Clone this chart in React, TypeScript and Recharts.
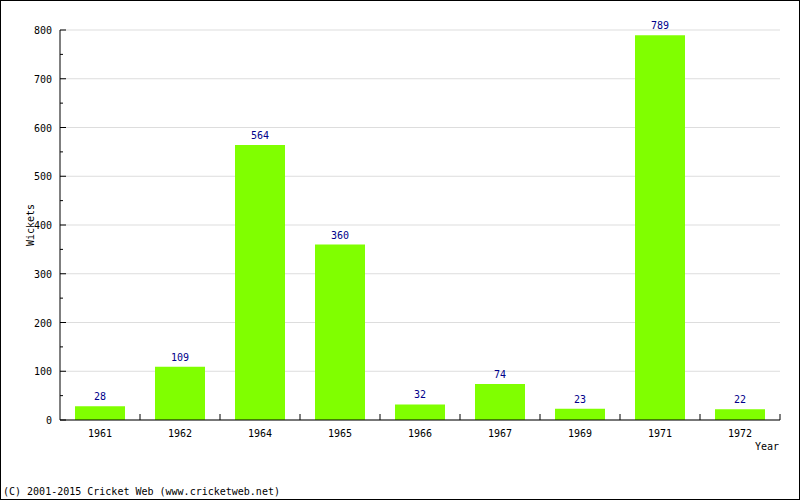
import React from "react";
import {
  Bar,
  BarChart,
  CartesianGrid,
  LabelList,
  XAxis,
  YAxis,
} from "recharts";

const years = ["1961", "1962", "1964", "1965", "1966", "1967", "1969", "1971", "1972"];
const wickets = [28, 109, 564, 360, 32, 74, 23, 789, 22];
const yMajorTicks = [0, 100, 200, 300, 400, 500, 600, 700, 800];
const yMinorTicks = [50, 150, 250, 350, 450, 550, 650, 750];

const data = years.map((year, i) => ({ year, wickets: wickets[i] }));
const allYTicks = [...yMajorTicks, ...yMinorTicks].sort((a, b) => a - b);

const font = "'DejaVu Sans Mono', monospace";

function YTick(props: any) {
  const { x, y, payload } = props;
  const major = payload.value % 100 === 0;
  return (
    <g>
      <line x1={x} x2={x + (major ? 6 : 3)} y1={y} y2={y} stroke="#000" />
      {major && (
        <text x={x - 8} y={y + 4} textAnchor="end" fontSize={10} fontFamily={font} fill="#000">
          {payload.value}
        </text>
      )}
    </g>
  );
}

function XTick(props: any) {
  const { x, y, payload } = props;
  const half = payload.offset || 40;
  return (
    <g>
      <line x1={x + half} x2={x + half} y1={y} y2={y - 6} stroke="#000" />
      <text x={x} y={y + 17} textAnchor="middle" fontSize={10} fontFamily={font} fill="#000">
        {payload.value}
      </text>
    </g>
  );
}

function BarValue(props: any) {
  const { x, y, width, value } = props;
  return (
    <text x={x + width / 2} y={y - 6} textAnchor="middle" fontSize={10} fontFamily={font} fill="#00008B">
      {value}
    </text>
  );
}

export default function App() {
  return (
    <div
      style={{
        position: "absolute",
        left: 0,
        top: 0,
        width: 798,
        height: 498,
        border: "1px solid #000",
        background: "#fff",
      }}
    >
      <BarChart
        width={798}
        height={498}
        data={data}
        margin={{ top: 29, right: 19, bottom: 49, left: -1 }}
        barSize={50}
      >
        <CartesianGrid
          vertical={false}
          stroke="#dddddd"
          horizontalValues={yMajorTicks}
        />
        <XAxis
          dataKey="year"
          height={30}
          tickSize={0}
          tickMargin={0}
          tick={<XTick />}
          tickLine={false}
          axisLine={{ stroke: "#000" }}
          interval={0}
        />
        <YAxis
          width={60}
          domain={[0, 800]}
          ticks={allYTicks}
          interval={0}
          tickSize={0}
          tickMargin={0}
          tickLine={false}
          tick={<YTick />}
          axisLine={{ stroke: "#000" }}
        />
        <Bar dataKey="wickets" fill="#80FF00" isAnimationActive={false}>
          <LabelList dataKey="wickets" content={<BarValue />} />
        </Bar>
      </BarChart>
      <svg
        width={798}
        height={498}
        style={{ position: "absolute", left: 0, top: 0, pointerEvents: "none" }}
      >
        <text
          x={0}
          y={0}
          transform="translate(33,224) rotate(-90)"
          textAnchor="middle"
          fontSize={10}
          fontFamily={font}
          fill="#000"
        >
          Wickets
        </text>
        <text x={778} y={449} textAnchor="end" fontSize={10} fontFamily={font} fill="#000">
          Year
        </text>
        <text x={2} y={494} fontSize={10} fontFamily={font} fill="#000">
          (C) 2001-2015 Cricket Web (www.cricketweb.net)
        </text>
      </svg>
    </div>
  );
}
